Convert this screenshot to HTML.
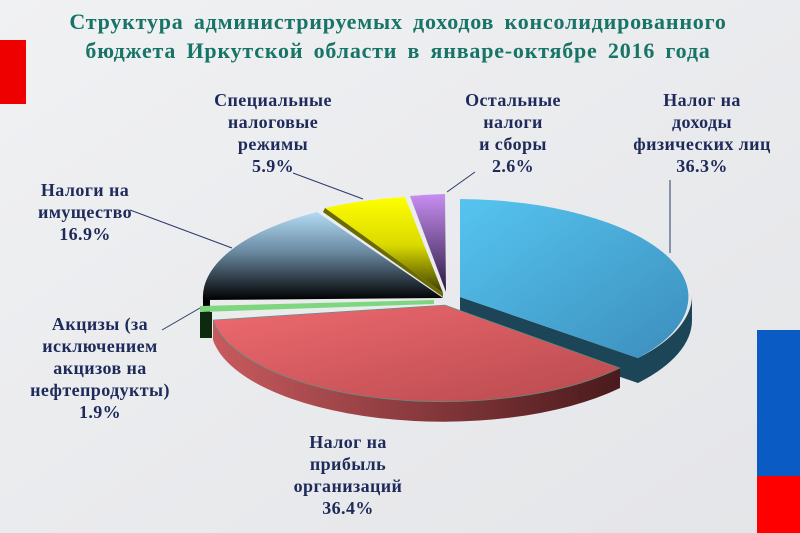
<!DOCTYPE html>
<html><head><meta charset="utf-8"><style>
body{margin:0;width:800px;height:533px;overflow:hidden;background:#eceef0;}
svg{display:block}
.t{font-family:"Liberation Serif",serif;font-weight:bold;fill:#177466;font-size:22px;letter-spacing:0.8px;word-spacing:4px}
.l{font-family:"Liberation Serif",serif;font-weight:bold;fill:#1e2a5a;font-size:18px;letter-spacing:0.4px}
</style></head><body>
<svg width="800" height="533" viewBox="0 0 800 533">
<defs>
<linearGradient id="bg" x1="0" y1="0" x2="1" y2="1"><stop offset="0" stop-color="#f0f1f3"/><stop offset="1" stop-color="#e4e5e8"/></linearGradient>
<linearGradient id="dk" x1="0" y1="0" x2="0" y2="1"><stop offset="0" stop-color="#b2dcf4"/><stop offset="0.45" stop-color="#6a8aa2"/><stop offset="1" stop-color="#000"/></linearGradient>
<linearGradient id="yl" x1="0" y1="0" x2="0" y2="1"><stop offset="0" stop-color="#ffff00"/><stop offset="0.5" stop-color="#dada00"/><stop offset="1" stop-color="#3a3a00"/></linearGradient>
<linearGradient id="pu" x1="0" y1="0" x2="0" y2="1"><stop offset="0" stop-color="#c88ef2"/><stop offset="1" stop-color="#2a1a40"/></linearGradient>
<linearGradient id="bl" x1="0" y1="0" x2="1" y2="1"><stop offset="0" stop-color="#56c4f0"/><stop offset="1" stop-color="#3c8ebc"/></linearGradient>
<linearGradient id="rd" x1="0" y1="0" x2="1" y2="1"><stop offset="0" stop-color="#ee6a70"/><stop offset="1" stop-color="#b84a4e"/></linearGradient>
<linearGradient id="rs" x1="0" y1="0" x2="1" y2="0"><stop offset="0" stop-color="#c85a5e"/><stop offset="1" stop-color="#4a1a1c"/></linearGradient>
</defs>
<rect width="800" height="533" fill="url(#bg)"/>
<rect x="0" y="40" width="26" height="64" fill="#ee0000"/>
<rect x="757" y="330" width="43" height="146" fill="#0a5cc4"/>
<rect x="757" y="476" width="43" height="57" fill="#ff0000"/>
<text class="t" x="398" y="29" text-anchor="middle">Структура администрируемых доходов консолидированного</text>
<text class="t" x="398" y="58" text-anchor="middle">бюджета Иркутской области в январе-октябре 2016 года</text>
<path d="M443,298 L203,300 A240,100 0 0 1 317,212 Z" fill="url(#dk)"/>
<path d="M203,300 L203,337 L210,337 L210,300 Z" fill="#000"/>
<path d="M200,306 L434,300 L434,304 L200,312 Z" fill="#7ed67e"/>
<path d="M200,312 L200,338 L212,338 L212,312 Z" fill="#0e2a0e"/>
<path d="M443,293 L325,208 A240,100 0 0 1 405,197 Z" fill="url(#yl)"/>
<path d="M325,208 L443,293 L443,297 L323,212 Z" fill="#6a6a00"/>
<path d="M446,292 L410,196 A240,100 0 0 1 445,194 Z" fill="url(#pu)"/>
<path d="M460,297 L460,322 L638,383 L638,358 Z" fill="#1c4658"/>
<path d="M638,358 A232,98 0 0 0 692,293 L692,320 A232,98 0 0 1 638,383 Z" fill="#1c4658"/>
<path d="M460,297 L460,199 A232,98 0 0 1 638,358 Z" fill="url(#bl)"/>
<path d="M213,320 A232,95 0 0 0 620,368 L620,388 A232,95 0 0 1 213,340 Z" fill="url(#rs)"/>
<path d="M445,305 L213,320 A232,95 0 0 0 620,368 Z" fill="url(#rd)" stroke="#3aa08a" stroke-width="0.6"/>
<g stroke="#2a3a6a" stroke-width="1" fill="none">
<path d="M293,173 L363,199"/>
<path d="M447,192 L475,172"/>
<path d="M670,180 L670,253"/>
<path d="M130,210 L232,248"/>
<path d="M162,330 L200,308"/>
</g>
<g class="l" text-anchor="middle">
<text x="273" y="106">Специальные</text><text x="273" y="128">налоговые</text><text x="273" y="150">режимы</text><text x="273" y="172">5.9%</text>
<text x="513" y="106">Остальные</text><text x="513" y="128">налоги</text><text x="513" y="150">и сборы</text><text x="513" y="172">2.6%</text>
<text x="702" y="106">Налог на</text><text x="702" y="128">доходы</text><text x="702" y="150">физических лиц</text><text x="702" y="172">36.3%</text>
<text x="85" y="196">Налоги на</text><text x="85" y="218">имущество</text><text x="85" y="240">16.9%</text>
<text x="100" y="330">Акцизы (за</text><text x="100" y="352">исключением</text><text x="100" y="374">акцизов на</text><text x="100" y="396">нефтепродукты)</text><text x="100" y="418">1.9%</text>
<text x="348" y="448">Налог на</text><text x="348" y="470">прибыль</text><text x="348" y="492">организаций</text><text x="348" y="514">36.4%</text>
</g>
</svg>
</body></html>
